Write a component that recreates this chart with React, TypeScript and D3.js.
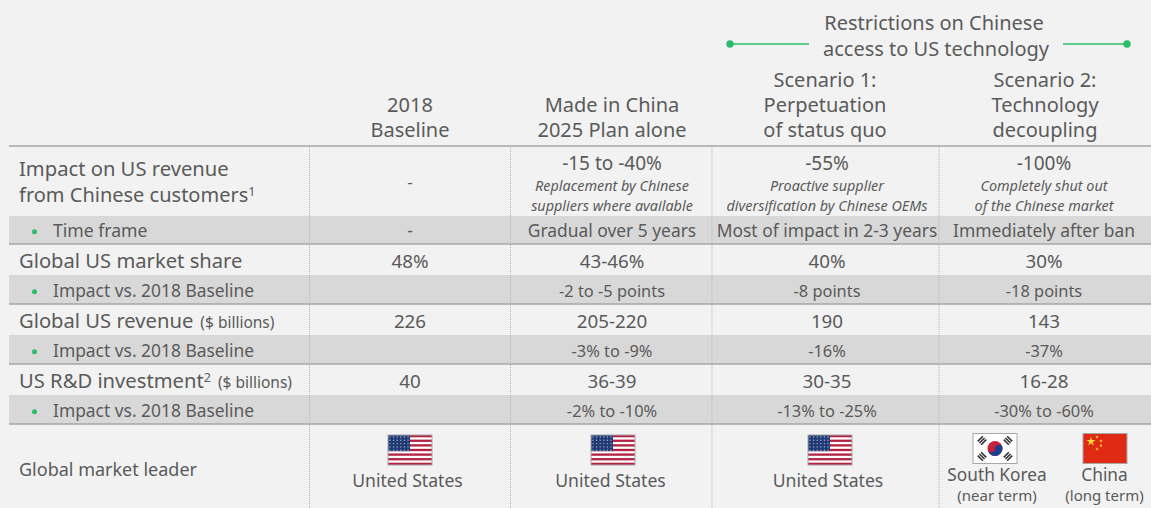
import React from "react";
import * as d3 from "d3";

const W = 1151, H = 508;
const FONT = "'Noto Sans', sans-serif";
const TEXT = "#5a5a5a";
const GREEN = "#2dbb6e";

const columnIds = ["label", "baseline", "made", "s1", "s2"];
const columnEdges = [9, 309.5, 510.5, 712, 939];
const columnCenters = [19, 410, 612, 827, 1044];

const headers = [
  ["2018", "Baseline"],
  ["Made in China", "2025 Plan alone"],
  ["Scenario 1:", "Perpetuation", "of status quo"],
  ["Scenario 2:", "Technology", "decoupling"],
];

const rowLabels = ["Global US market share", "Global US revenue", "US R&D investment"];
const rowMain = [
  ["48%", "43-46%", "40%", "30%"],
  ["226", "205-220", "190", "143"],
  ["40", "36-39", "30-35", "16-28"],
];
const rowImpact = [
  ["", "-2 to -5 points", "-8 points", "-18 points"],
  ["", "-3% to -9%", "-16%", "-37%"],
  ["", "-2% to -10%", "-13% to -25%", "-30% to -60%"],
];
const topMain = ["-", "-15 to -40%", "-55%", "-100%"];
const topNotes = [
  [],
  ["Replacement by Chinese", "suppliers where available"],
  ["Proactive supplier", "diversification by Chinese OEMs"],
  ["Completely shut out", "of the Chinese market"],
];
const timeFrame = ["-", "Gradual over 5 years", "Most of impact in 2-3 years", "Immediately after ban"];

const usLeaderCols = ["baseline", "made", "s1"];
const usFlagCenters = [410, 613, 830];
const usTextCenters = [407.5, 610.5, 828];

const rowEdges = [146, 216, 244, 275, 304, 335, 364, 395, 424, 508];
const rowKinds = ["white", "gray", "white", "gray", "white", "gray", "white", "gray", "white"];
const ruleValues = [146, 244, 304, 364, 424];

const y = d3.scaleLinear().domain([0, H]).range([0, H]);
const xEdge = d3.scaleOrdinal<string, number>().domain(columnIds).range(columnEdges);
const xCenter = d3.scaleOrdinal<string, number>().domain(columnIds).range(columnCenters);
const dataCols = columnIds.slice(1);

function T(p: any) {
  return (
    <text fontFamily={FONT} fill={TEXT} textAnchor="middle" {...p}>
      {p.children}
    </text>
  );
}

function UsFlag({ cx, top }: { cx: number; top: number }) {
  const w = 44, h = 30;
  const x0 = cx - w / 2;
  const sh = h / 13;
  const stars = d3.range(5).flatMap((r) => d3.range(6).map((c) => [c, r]));
  return (
    <g>
      <rect x={x0} y={top} width={w} height={h} fill="#fff" />
      {d3.range(13).filter((i) => i % 2 === 0).map((i) => (
        <rect key={i} x={x0} y={top + i * sh} width={w} height={sh} fill="#b22243" />
      ))}
      <rect x={x0} y={top} width={22} height={sh * 7} fill="#1f3a75" />
      {stars.map(([c, r]) => (
        <circle key={`${c}-${r}`} cx={x0 + 2 + c * 3.6} cy={top + 2 + r * 3.3} r={0.7} fill="#aab6d2" />
      ))}
      <rect x={x0} y={top} width={w} height={h} fill="none" stroke="#a8a8a8" strokeWidth={1} />
    </g>
  );
}

function KoreaFlag({ cx, top }: { cx: number; top: number }) {
  const w = 44, h = 30;
  const x0 = cx - w / 2, cy = top + h / 2;
  const trigrams = [[-13, -8, 45], [13, -8, -45], [-13, 8, -45], [13, 8, 45]];
  return (
    <g>
      <rect x={x0} y={top} width={w} height={h} fill="#fff" stroke="#a8a8a8" strokeWidth={1} />
      {trigrams.map(([dx, dy, a], i) => (
        <g key={i} transform={`translate(${cx + dx},${cy + dy}) rotate(${a})`}>
          {[-2.4, 0, 2.4].map((o) => (
            <rect key={o} x={o - 0.8} y={-3.6} width={1.6} height={7.2} fill="#333" />
          ))}
        </g>
      ))}
      <circle cx={cx} cy={cy} r={7.5} fill="#c8203c" />
      <path d={`M${cx - 7.5},${cy} A3.75,3.75 0 0 0 ${cx},${cy} A3.75,3.75 0 0 1 ${cx + 7.5},${cy} A7.5,7.5 0 0 1 ${cx - 7.5},${cy} Z`} fill="#1c3f8c" />
    </g>
  );
}

function ChinaFlag({ cx, top }: { cx: number; top: number }) {
  const w = 44, h = 30;
  const x0 = cx - w / 2;
  const star = d3.symbol().type(d3.symbolStar);
  const small = [[14, 3.5], [18, 7.5], [18, 12], [14, 15.5]];
  return (
    <g>
      <rect x={x0} y={top} width={w} height={h} fill="#df2a14" stroke="#a8a8a8" strokeWidth={1} />
      <path transform={`translate(${x0 + 8},${top + 8})`} d={star.size(26)() as string} fill="#fbd832" />
      {small.map(([dx, dy], i) => (
        <path key={i} transform={`translate(${x0 + dx},${top + dy})`} d={star.size(4)() as string} fill="#fbd832" />
      ))}
    </g>
  );
}

export default function App() {
  React.useEffect(() => {
    document.body.style.margin = "0";
    document.body.style.background = "#f2f2f2";
  }, []);

  const L = xEdge("label");
  const labelX = xCenter("label");
  const bands = rowKinds.map((k, i) => ({ k, y0: rowEdges[i], y1: rowEdges[i + 1] }));
  const headerDx = [0, 0, -2, 1];

  return (
    <svg width={W} height={H} viewBox={`0 0 ${W} ${H}`} style={{ display: "block", background: "#f2f2f2" }}>
      {bands.filter((b) => b.k === "gray").map((b) => (
        <rect key={b.y0} x={L} y={y(b.y0)} width={W - L} height={b.y1 - b.y0} fill="#d8d8d8" />
      ))}
      {ruleValues.map((v) => (
        <line key={v} x1={L} x2={W} y1={y(v)} y2={y(v)} stroke="#a6a6a6" strokeWidth={1.3} />
      ))}
      {dataCols.map((c) => (
        <line key={c} x1={xEdge(c)} x2={xEdge(c)} y1={147} y2={H} stroke="#b5b5b5" strokeWidth={1} strokeDasharray="1 1" />
      ))}

      <line x1={730} x2={809} y1={44} y2={44} stroke={GREEN} strokeWidth={1.5} />
      <circle cx={730} cy={44} r={3.7} fill={GREEN} />
      <line x1={1063} x2={1127} y1={44} y2={44} stroke={GREEN} strokeWidth={1.5} />
      <circle cx={1127} cy={44} r={3.7} fill={GREEN} />
      <T x={934} y={30} fontSize={20}>Restrictions on Chinese</T>
      <T x={936} y={55.5} fontSize={20}>access to US technology</T>

      {headers.map((lines, c) =>
        lines.map((s, i) => (
          <T key={s} x={xCenter(dataCols[c]) + headerDx[c]} y={137 - (lines.length - 1 - i) * 25} fontSize={20}>
            {s}
          </T>
        ))
      )}

      <T x={labelX} y={176} fontSize={20.2} textAnchor="start">Impact on US revenue</T>
      <T x={labelX} y={202} fontSize={20} textAnchor="start">
        from Chinese customers
        <tspan fontSize={12.5} dy={-6}>1</tspan>
      </T>
      {topMain.map((s, c) => (
        <T key={c} x={xCenter(dataCols[c])} y={c === 0 ? 188 : 170} fontSize={c === 0 ? 17 : 19}>{s}</T>
      ))}
      {topNotes.map((lines, c) =>
        lines.map((s, i) => (
          <T key={s} x={xCenter(dataCols[c])} y={190.5 + i * 20} fontSize={14.4} fontStyle="italic">{s}</T>
        ))
      )}

      <circle cx={34.5} cy={231.7} r={2.5} fill={GREEN} />
      <T x={53} y={236.7} fontSize={17.6} textAnchor="start">Time frame</T>
      {timeFrame.map((s, c) => (
        <T key={c} x={xCenter(dataCols[c])} y={236.7} fontSize={17.4}>{s}</T>
      ))}

      {rowLabels.map((label, r) => {
        const mainY = 268 + r * 60;
        const subY = 296.7 + r * 60;
        return (
          <g key={label}>
            <T x={labelX} y={mainY} fontSize={20.2} textAnchor="start">
              {label}
              {r === 2 && <tspan fontSize={12.5} dy={-6}>2</tspan>}
              {r > 0 && <tspan fontSize={15.5} dx={3} dy={r === 2 ? 6 : 0}> ($ billions)</tspan>}
            </T>
            {rowMain[r].map((s, c) => (
              <T key={c} x={xCenter(dataCols[c])} y={mainY} fontSize={18.8}>{s}</T>
            ))}
            <circle cx={34.5} cy={291.7 + r * 60} r={2.5} fill={GREEN} />
            <T x={53} y={subY} fontSize={17.4} textAnchor="start">Impact vs. 2018 Baseline</T>
            {rowImpact[r].map((s, c) => (
              <T key={c} x={xCenter(dataCols[c])} y={subY} fontSize={16.4}>{s}</T>
            ))}
          </g>
        );
      })}

      <T x={labelX} y={476} fontSize={18} textAnchor="start">Global market leader</T>
      {usLeaderCols.map((c, i) => (
        <g key={c}>
          <UsFlag cx={usFlagCenters[i]} top={435} />
          <T x={usTextCenters[i]} y={487} fontSize={17.6}>United States</T>
        </g>
      ))}
      <KoreaFlag cx={995} top={433.5} />
      <ChinaFlag cx={1105} top={433.5} />
      <T x={997} y={481} fontSize={17.3}>South Korea</T>
      <T x={1104.5} y={481} fontSize={17.3}>China</T>
      <T x={997} y={501} fontSize={15}>(near term)</T>
      <T x={1104.5} y={501} fontSize={15}>(long term)</T>
    </svg>
  );
}
